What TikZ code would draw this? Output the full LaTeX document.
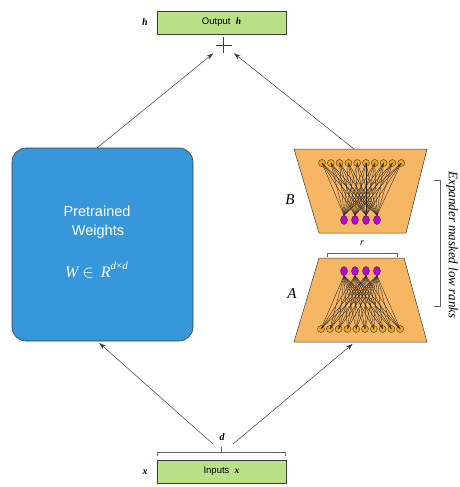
\documentclass[tikz,border=0pt]{standalone}
\usepackage{fontspec}
\setmainfont{Liberation Serif}
\setsansfont{Liberation Sans}
\usetikzlibrary{arrows.meta,shapes.geometric}
\definecolor{boxgreen}{RGB}{185,225,135}
\definecolor{wblue}{RGB}{55,151,219}
\definecolor{trapfill}{RGB}{247,182,100}
\definecolor{onode}{RGB}{240,165,30}
\definecolor{pnode}{RGB}{190,0,220}
\definecolor{linegray}{RGB}{60,60,60}
\definecolor{brgray}{RGB}{100,100,100}
\tikzset{
  gbox/.style={draw=linegray, fill=boxgreen, line width=0.5pt, minimum width=129pt, minimum height=23pt, inner sep=0pt, font=\sffamily\fontsize{9.5}{11}\selectfont},
  arr/.style={draw=linegray, line width=0.5pt, -{Stealth[length=7pt,width=4.5pt]}},
  trap/.style={draw=linegray, fill=trapfill, line width=0.5pt},
  onn/.style={circle, draw=black!80, fill=onode, line width=0.4pt, minimum size=7pt, inner sep=0pt},
  pnn/.style={ellipse, draw=black!80, fill=pnode, line width=0.4pt, minimum width=7pt, minimum height=9pt, inner sep=0pt},
  netedge/.style={draw=black!85, line width=0.35pt},
  brk/.style={draw=brgray, line width=0.5pt},
  smalllbl/.style={font=\itshape\bfseries\fontsize{10}{11}\selectfont},
  biglbl/.style={font=\itshape\fontsize{15}{17}\selectfont}
}
\begin{document}
\begin{tikzpicture}[x=1pt,y=-1pt]
\useasboundingbox (0,0) rectangle (459,487);

% output and input boxes
\node[gbox] (out) at (221.5,22.5) {Output~~\textrm{\textit{\textbf{h}}}};
\node[smalllbl] (hl) at (145,22.5) {h};
\node[gbox] (in) at (221.5,471.5) {Inputs~~\textrm{\textit{\textbf{x}}}};
\node[smalllbl] (xl) at (145,472) {x};

% plus
\node[circle, minimum size=26pt, inner sep=0pt] (plus) at (223.5,45) {};
\draw[linegray, line width=0.6pt] (plus.center) ++(-8,0) -- ++(16,0);
\draw[linegray, line width=0.6pt] (plus.center) ++(0,-8) -- ++(0,16);

% pretrained weights
\node[draw=linegray, fill=wblue, rounded corners=14pt, line width=0.6pt, minimum width=181pt, minimum height=193pt, inner sep=0pt] (W) at (102.5,244.5) {};
\node[text=white, font=\sffamily\fontsize{14.5}{16}\selectfont] (pt1) at (97,211) {Pretrained};
\node[text=white, font=\sffamily\fontsize{14.5}{16}\selectfont] (pt2) at (98,232) {Weights};
\node[text=white, font=\fontsize{16}{18}\selectfont] (wm) at (96.5,270) {\textit{W}\,$\in$\;\,\textit{R}\raisebox{0.45em}{\fontsize{11}{12}\selectfont\textit{d}×\textit{d}}};

% trapezoids
\path[trap] (294,149) -- (427,149) -- (406,233) -- (319,233) -- cycle;
\path[trap] (319,258) -- (404,258) -- (427,342) -- (294,342) -- cycle;
\coordinate (Btop) at (354,149);
\coordinate (Abot) at (355,342);
\node[biglbl] (Bl) at (290,200) {B};
\node[biglbl] (Al) at (292,294) {A};

% network nodes
\foreach \i in {0,...,9} {
  \node[onn] (bo\i) at ({322+\i*8.8},163) {};
  \node[onn] (ao\i) at ({321+\i*8.8},329) {};
}
\foreach \j in {0,...,3} {
  \node[pnn] (bp\j) at ({344+\j*11},220) {};
  \node[pnn] (ap\j) at ({344+\j*11},271) {};
}
\foreach \i in {0,...,9} {
  \foreach \j in {0,...,3} {
    \draw[netedge] (bo\i.center) -- (bp\j.north);
    \draw[netedge] (ao\i.center) -- (ap\j.south);
  }
}

% brackets
\draw[brk] (327,257) -- (327,253) -- (397,253) -- (397,257);
\node[font=\itshape\fontsize{10}{11}\selectfont] (rl) at (362,243) {r};
\draw[brk] (157,456) -- (157,452) -- (285,452) -- (285,456);
\draw[brk] (221,452) -- (221,447);
\node[smalllbl] (dl) at (222,437) {d};
\draw[brk] (434,180) -- (440,180) -- (440,306) -- (434,306);
\node[rotate=-90, font=\itshape\fontsize{13}{15}\selectfont] (exp) at (452,245) {Expander masked low ranks};

% arrows
\coordinate (dlft) at (213,444);
\coordinate (drgt) at (233,444);
\coordinate (Wtop) at (97,148);
\coordinate (Wbot) at (97,341);
\draw[arr] (Wtop) -- (plus);
\draw[arr] (Btop) -- (plus);
\draw[arr, shorten >=3pt] (dlft) -- (Wbot);
\draw[arr, shorten >=3pt] (drgt) -- (Abot);
\end{tikzpicture}
\end{document}
